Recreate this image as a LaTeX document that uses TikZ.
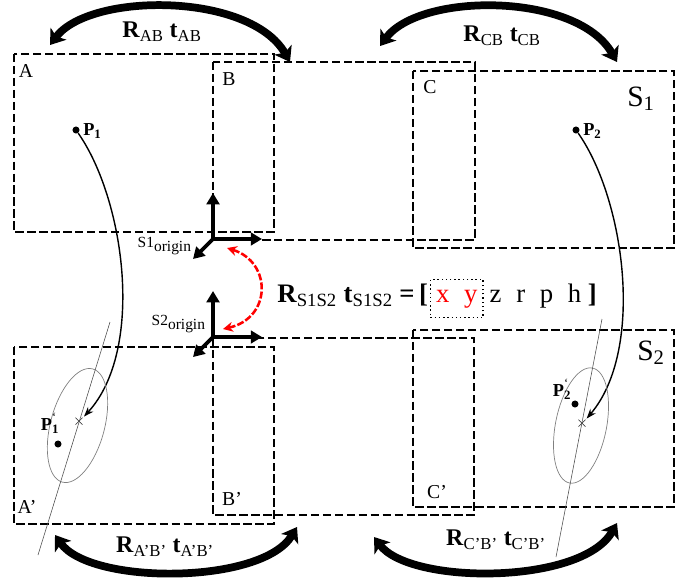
\documentclass[tikz,border=0pt]{standalone}
\usepackage{fontspec}
\setmainfont{Liberation Serif}
\usetikzlibrary{arrows.meta, positioning}

\newcommand{\eqsp}{\hspace{0.55em}}
\newcommand{\tick}{\rlap{\raisebox{1.1ex}{\fontsize{9}{10}\selectfont ‘}}}

\tikzset{
  frame/.style={draw, line width=1.3pt, dash pattern=on 6pt off 2.5pt},
  bigarc/.style={line width=5.5pt, {Stealth[length=10pt,width=14pt,inset=2.5pt]}-{Stealth[length=10pt,width=14pt,inset=2.5pt]}},
  axis/.style={line width=2.6pt, line cap=rect, -{Triangle[length=8pt,width=9pt]}},
  track/.style={line width=1pt, -{Stealth[length=7pt,width=5pt]}},
  linkarrow/.style={red, line width=1.8pt, dash pattern=on 5pt off 1.5pt, {Stealth[length=7pt,width=7pt]}-{Stealth[length=7pt,width=7pt]}},
  boxlabel/.style={inner sep=0pt, font=\fontsize{14}{16}\selectfont},
  arclabel/.style={inner sep=0pt, font=\fontsize{17}{20}\selectfont},
  eqtext/.style={inner sep=0pt, font=\fontsize{19}{22}\selectfont},
  dot/.style={circle, fill, inner sep=0pt, minimum size=5pt},
  ptlabel/.style={inner sep=0pt, font=\fontsize{13}{15}\selectfont},
  hitmark/.style={inner sep=0pt, font=\fontsize{11}{13}\selectfont},
  spread/.style={gray, line width=0.5pt},
  ray/.style={black!70, line width=0.4pt}
}

\begin{document}
\begin{tikzpicture}[x=0.025cm, y=-0.025cm]
\useasboundingbox (0,0) rectangle (694,581);

% frames, first pass
\draw[frame] (14,54) rectangle (274,232);
\draw[frame] (213,62) rectangle (475,240);
\draw[frame] (413,71) rectangle (674,248);
% frames, second pass
\draw[frame] (14,347) rectangle (274,524);
\draw[frame] (213,338) rectangle (474,515);
\draw[frame] (413,330) rectangle (674,507);

\node[boxlabel] (LA) at (26,71) {A};
\node[boxlabel] (LB) at (229,79) {B};
\node[boxlabel] (LC) at (430,87) {C};
\node[inner sep=0pt, font=\fontsize{21}{24}\selectfont] (LS1) at (641,99) {S\textsubscript{1}};
\node[boxlabel] (LA2) at (27,507) {A’};
\node[boxlabel] (LB2) at (232,499) {B’};
\node[boxlabel] (LC2) at (437,492) {C’};
\node[inner sep=0pt, font=\fontsize{21}{24}\selectfont] (LS2) at (651,353) {S\textsubscript{2}};

% transforms between neighbouring frames
\coordinate (AB1) at (50,45);
\coordinate (AB2) at (290,62);
\coordinate (CB1) at (380,46);
\coordinate (CB2) at (617,62);
\coordinate (AB3) at (55,535);
\coordinate (AB4) at (297,527);
\coordinate (CB3) at (374,537);
\coordinate (CB4) at (617,523);
\draw[bigarc] (AB1) .. controls (90,-8) and (250,-8) .. (AB2);
\draw[bigarc] (CB1) .. controls (420,-8) and (577,-8) .. (CB2);
\draw[bigarc] (AB3) .. controls (90,585) and (262,585) .. (AB4);
\draw[bigarc] (CB3) .. controls (410,585) and (582,585) .. (CB4);
\node[arclabel] (tAB) at (162,32) {\textbf{R}\textsubscript{AB} \textbf{t}\textsubscript{AB}};
\node[arclabel] (tCB) at (502,36) {\textbf{R}\textsubscript{CB} \textbf{t}\textsubscript{CB}};
\node[arclabel] (tAB2) at (165,547) {\textbf{R}\textsubscript{A’B’} \textbf{t}\textsubscript{A’B’}};
\node[arclabel] (tCB2) at (496,540) {\textbf{R}\textsubscript{C’B’} \textbf{t}\textsubscript{C’B’}};

% origins
\coordinate (O1) at (213,239);
\coordinate (O1y) at (213,193);
\coordinate (O1x) at (262,239);
\coordinate (O1z) at (193,259);
\draw[axis] (O1) -- (O1y);
\draw[axis] (O1) -- (O1x);
\draw[axis] (O1) -- (O1z);
\node[inner sep=0pt, anchor=base east, font=\fontsize{11}{13}\selectfont] (L1) at (192,247) {S1\textsubscript{\fontsize{11}{13}\selectfont origin}};
\coordinate (O2) at (213,337);
\coordinate (O2y) at (213,291);
\coordinate (O2x) at (262,337);
\coordinate (O2z) at (193,357);
\draw[axis] (O2) -- (O2y);
\draw[axis] (O2) -- (O2x);
\draw[axis] (O2) -- (O2z);
\node[inner sep=0pt, anchor=base east, font=\fontsize{11}{13}\selectfont] (L2) at (206,325) {S2\textsubscript{\fontsize{11}{13}\selectfont origin}};

\coordinate (R1) at (227,248);
\coordinate (R2) at (223,329);
\draw[linkarrow] (R1) .. controls (272,262) and (272,318) .. (R2);

% relative pose
\node[eqtext, anchor=base west] (eqL) at (277,302) {\textbf{R}\textsubscript{S1S2} \textbf{t}\textsubscript{S1S2} \textbf{=}\,\textbf{[}};
\node[eqtext, draw, dotted, line width=1pt, text=red, minimum height=27pt, inner xsep=4pt, base right=1pt of eqL] (xy) {x\eqsp y};
\node[eqtext, base right=4pt of xy] (eqR) {z\eqsp r\eqsp p\eqsp h \textbf{]}};

% points and their matches
\node[dot] (P1) at (76,130) {};
\node[ptlabel, anchor=west] (LP1) at (83,131) {\textbf{P}\textsubscript{\textbf{1}}};
\node[dot] (P2) at (576,130) {};
\node[ptlabel, anchor=west] (LP2) at (583,131) {\textbf{P}\textsubscript{\textbf{2}}};
\node[hitmark] (X1) at (79,422) {$\times$};
\node[hitmark] (X2) at (582,424) {$\times$};
\draw[track] (P1) .. controls (125,200) and (145,350) .. (X1);
\draw[track] (P2) .. controls (625,200) and (645,350) .. (X2);
\draw[spread] (77.5,425.5) ellipse [x radius=27, y radius=58.6, rotate=-15];
\draw[spread] (581,425.5) ellipse [x radius=25.5, y radius=58.6, rotate=-11.3];
\draw[ray] (38,555) -- (110,322);
\draw[ray] (556,557) -- (602,319);
\node[dot] (Q1) at (58,444) {};
\node[ptlabel] (LQ1) at (50,423) {\textbf{P}\tick\textsubscript{\textbf{1}}};
\node[dot] (Q2) at (575,404) {};
\node[ptlabel] (LQ2) at (562,389) {\textbf{P}\tick\textsubscript{\textbf{2}}};
\end{tikzpicture}
\end{document}
